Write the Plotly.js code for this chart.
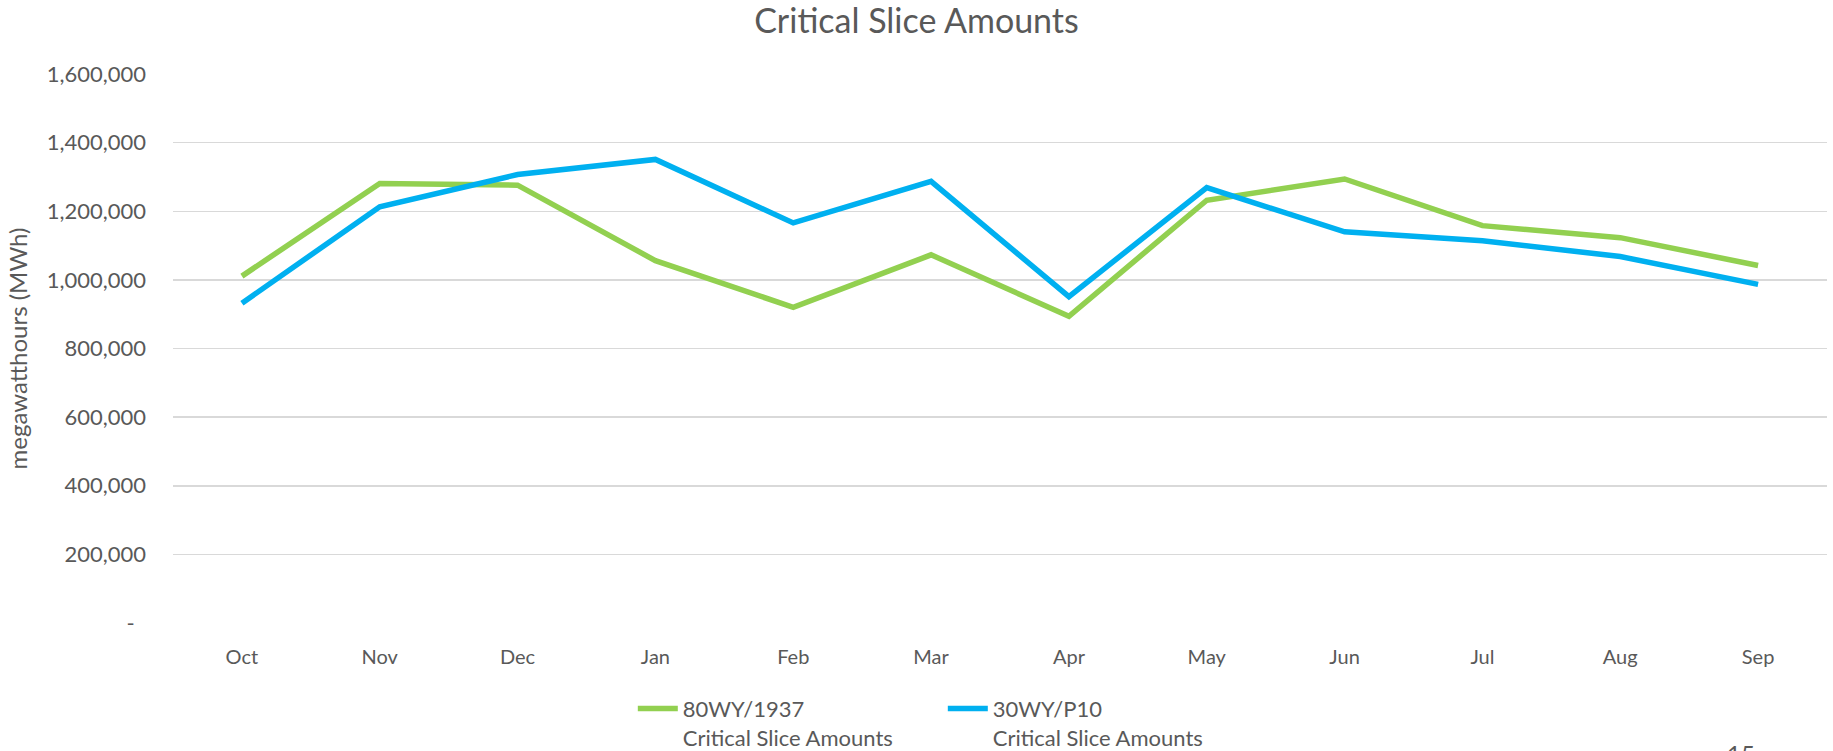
<!DOCTYPE html>
<html>
<head>
<meta charset="utf-8">
<script src="https://cdn.plot.ly/plotly-3.0.1.min.js"></script>
<style>
  html, body { margin: 0; padding: 0; background: #ffffff; }
  #chart { width: 1833px; height: 751px; }
</style>
</head>
<body>
<div id="chart"></div>
<script>
// ---- data ----
const months = ["Oct", "Nov", "Dec", "Jan", "Feb", "Mar", "Apr", "May", "Jun", "Jul", "Aug", "Sep"];
const series80WY = [1011000, 1281000, 1276000, 1056000, 920000, 1073000, 894000, 1232000, 1294000, 1158000, 1123000, 1042000];
const series30WY = [932000, 1213000, 1307000, 1351000, 1166000, 1287000, 951000, 1269000, 1140000, 1114000, 1068000, 987000];
const seriesNames = ["80WY/1937<br>Critical Slice Amounts", "30WY/P10<br>Critical Slice Amounts"];
const yTickVals = [0, 200000, 400000, 600000, 800000, 1000000, 1200000, 1400000, 1600000];
const yTickText = ["-  ", "200,000", "400,000", "600,000", "800,000", "1,000,000", "1,200,000", "1,400,000", "1,600,000"];
const chartTitle = "Critical Slice Amounts";
const yTitle = "megawatthours (MWh)";
const pageNumber = "15";

const FONT = "Lato, 'Open Sans', 'DejaVu Sans', sans-serif";
const GREY = "#595959";

const traces = [
  {
    x: months, y: series80WY, name: seriesNames[0], type: "scatter", mode: "lines",
    line: { color: "#92D050", width: 5.5 }, hoverinfo: "x+y"
  },
  {
    x: months, y: series30WY, name: seriesNames[1], type: "scatter", mode: "lines",
    line: { color: "#00B0F0", width: 5.5 }, hoverinfo: "x+y"
  }
];

const layout = {
  width: 1833, height: 751,
  paper_bgcolor: "#ffffff", plot_bgcolor: "#ffffff",
  font: { family: FONT, color: GREY, size: 20 },
  margin: { l: 173, r: 6, t: 74, b: 128, autoexpand: false },
  title: {
    text: chartTitle, font: { family: FONT, size: 34, color: GREY },
    x: 0.5, xref: "container", xanchor: "center", y: 0.972, yref: "container", yanchor: "middle"
  },
  showlegend: true,
  legend: {
    orientation: "h", x: 0.278, xanchor: "left", y: -0.118, yanchor: "top",
    valign: "top", font: { family: FONT, size: 22, color: GREY },
    entrywidth: 255, entrywidthmode: "pixels", itemwidth: 40,
    bgcolor: "rgba(0,0,0,0)", traceorder: "normal"
  },
  xaxis: {
    type: "category", range: [-0.5, 11.5], showgrid: false, zeroline: false,
    showline: false, ticks: "", tickfont: { family: FONT, size: 20, color: GREY },
    ticklabelstandoff: 20, fixedrange: true
  },
  yaxis: {
    range: [0, 1600000], tickvals: yTickVals, ticktext: yTickText,
    showgrid: true, gridcolor: "#D9D9D9", gridwidth: 1.5, zeroline: false,
    showline: false, ticks: "", tickfont: { family: FONT, size: 22, color: GREY },
    ticklabelstandoff: 26,
    title: { text: yTitle, font: { family: FONT, size: 24, color: GREY }, standoff: 12 },
    fixedrange: true
  },
  annotations: [
    {
      text: pageNumber, xref: "paper", yref: "paper", x: 0.948, y: -0.207,
      xanchor: "center", yanchor: "top", showarrow: false,
      font: { family: FONT, size: 24, color: GREY }
    }
  ]
};

Plotly.newPlot("chart", traces, layout, { displayModeBar: false, staticPlot: true });
</script>
</body>
</html>
